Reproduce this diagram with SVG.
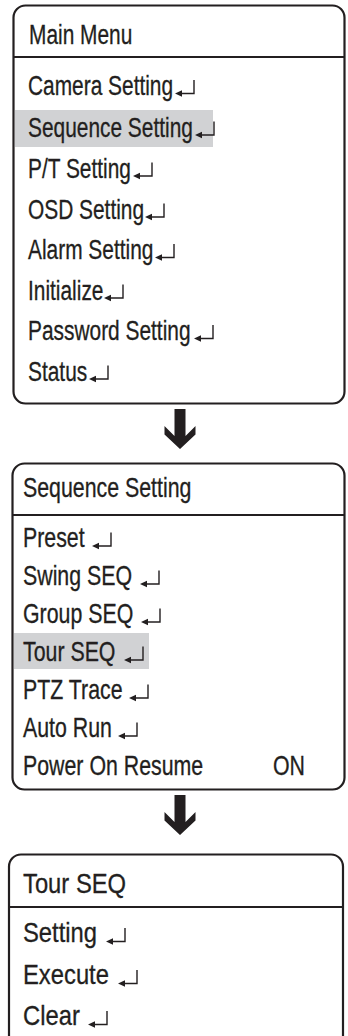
<svg xmlns="http://www.w3.org/2000/svg" xmlns:xlink="http://www.w3.org/1999/xlink" width="348" height="1036" viewBox="0 0 348 1036">
<style>
.box{fill:#fff;stroke:#231f20;stroke-width:2.2}
.div{stroke:#231f20;stroke-width:2.2}
.hl{fill:#d1d2d4}
text{font-family:"Liberation Sans",Arial,sans-serif;fill:#231f20;stroke:#231f20;stroke-width:0.3}
.t1{font-size:27.5px}
.t2{font-size:27px}
.t3{font-size:28px}
.arr{fill:#231f20}
</style>
<defs>
<g id="ret">
<path d="M4,0 H19 V-13.5" fill="none" stroke="#231f20" stroke-width="1.4"/>
<polygon points="0,0 7,-3.2 7,3.2" fill="#231f20"/>
</g>
<polygon id="down" points="174.5,0 185.5,0 185.5,27 195.5,17 195.5,25.5 180,40 164.5,25.5 164.5,17 174.5,27"/>
</defs>

<g id="main-menu">
<rect class="box" x="13.5" y="5.5" width="331" height="398" rx="12"/>
<line class="div" x1="13.5" y1="57" x2="344.5" y2="57"/>
<rect class="hl" x="15" y="110" width="198" height="37"/>
<text class="t1" transform="translate(29,44) scale(0.76,1)">Main Menu</text>
<text class="t1" transform="translate(28,95) scale(0.76,1)">Camera Setting</text>
<use xlink:href="#ret" x="175" y="93.5"/>
<text class="t1" transform="translate(28,136.5) scale(0.76,1)">Sequence Setting</text>
<use xlink:href="#ret" x="195" y="135"/>
<text class="t1" transform="translate(28,177.5) scale(0.76,1)">P/T Setting</text>
<use xlink:href="#ret" x="133" y="176"/>
<text class="t1" transform="translate(28,218.5) scale(0.76,1)">OSD Setting</text>
<use xlink:href="#ret" x="145" y="217"/>
<text class="t1" transform="translate(28,259) scale(0.76,1)">Alarm Setting</text>
<use xlink:href="#ret" x="155" y="257.5"/>
<text class="t1" transform="translate(28,299.5) scale(0.76,1)">Initialize</text>
<use xlink:href="#ret" x="104" y="298"/>
<text class="t1" transform="translate(28,340) scale(0.76,1)">Password Setting</text>
<use xlink:href="#ret" x="194" y="338.5"/>
<text class="t1" transform="translate(28,380.5) scale(0.76,1)">Status</text>
<use xlink:href="#ret" x="89" y="379"/>
</g>

<g id="sequence-setting">
<rect class="box" x="12.5" y="463.5" width="332" height="326" rx="12"/>
<line class="div" x1="12.5" y1="515" x2="344.5" y2="515"/>
<rect class="hl" x="14" y="633" width="135" height="36"/>
<text class="t2" transform="translate(23,497) scale(0.79,1)">Sequence Setting</text>
<text class="t2" transform="translate(23,547) scale(0.79,1)">Preset</text>
<use xlink:href="#ret" x="92" y="546"/>
<text class="t2" transform="translate(23,585) scale(0.79,1)">Swing SEQ</text>
<use xlink:href="#ret" x="140" y="584"/>
<text class="t2" transform="translate(23,623) scale(0.79,1)">Group SEQ</text>
<use xlink:href="#ret" x="141" y="622"/>
<text class="t2" transform="translate(23,661) scale(0.79,1)">Tour SEQ</text>
<use xlink:href="#ret" x="124" y="660"/>
<text class="t2" transform="translate(23,699) scale(0.79,1)">PTZ Trace</text>
<use xlink:href="#ret" x="129" y="698"/>
<text class="t2" transform="translate(23,737) scale(0.79,1)">Auto Run</text>
<use xlink:href="#ret" x="118" y="736"/>
<text class="t2" transform="translate(23,775) scale(0.79,1)">Power On Resume</text>
<text class="t2" transform="translate(273,775) scale(0.79,1)">ON</text>
</g>

<g id="tour-seq">
<rect class="box" x="9" y="854.5" width="334" height="195" rx="12"/>
<line class="div" x1="9" y1="907" x2="343" y2="907"/>
<text class="t3" transform="translate(23,893) scale(0.85,1)">Tour SEQ</text>
<text class="t3" transform="translate(23,942) scale(0.85,1)">Setting</text>
<use xlink:href="#ret" x="106" y="941.5"/>
<text class="t3" transform="translate(23,984) scale(0.85,1)">Execute</text>
<use xlink:href="#ret" x="118" y="983.5"/>
<text class="t3" transform="translate(23,1025) scale(0.85,1)">Clear</text>
<use xlink:href="#ret" x="88" y="1024.5"/>
</g>

<g id="connectors">
<use xlink:href="#down" class="arr" x="0" y="409"/>
<use xlink:href="#down" class="arr" x="0" y="795"/>
</g>
</svg>
